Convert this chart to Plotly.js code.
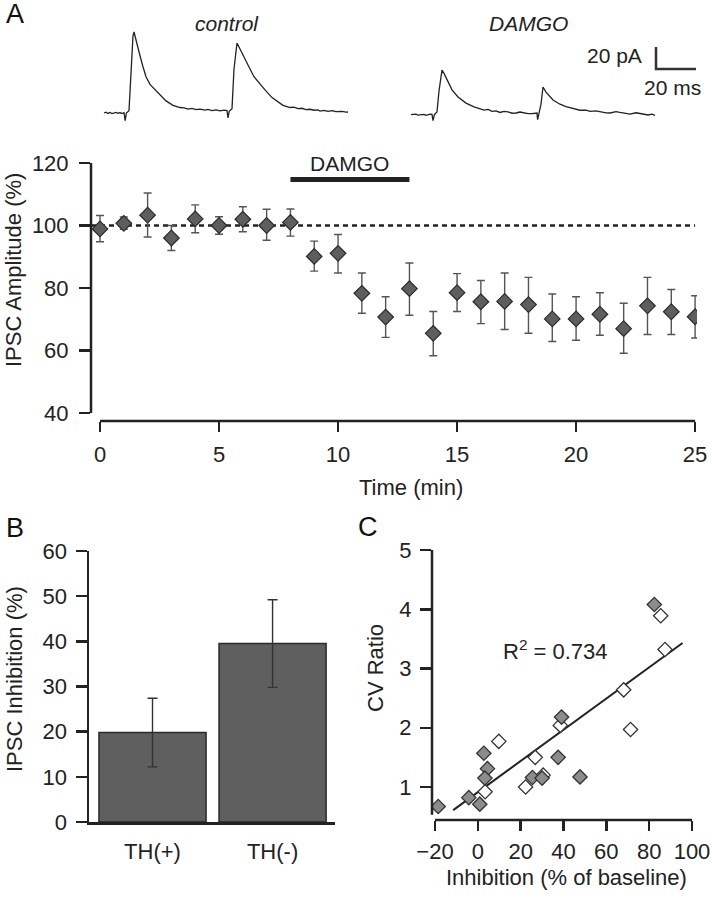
<!DOCTYPE html>
<html>
<head>
<meta charset="utf-8">
<script src="https://cdn.plot.ly/plotly-3.0.1.min.js"></script>
<style>
html,body{margin:0;padding:0;background:#fff;}
#chart{width:712px;height:900px;}
</style>
</head>
<body>
<div id="chart"></div>
<script>
// ---------- Panel A: time course ----------
var timeMin = [0,1,2,3,4,5,6,7,8,9,10,11,12,13,14,15,16,17,18,19,20,21,22,23,24,25];
var ipscAmp = [98.9,100.7,103.3,96,102.1,100,102,100,101,90.1,91.1,78.3,70.7,79.8,65.5,78.5,75.6,75.7,74.7,70.1,70.1,71.6,67,74.3,72.4,70.8];
var ampErrPlus  = [4.3,2,7.1,4,4.5,2.8,4,5.2,4.3,4.9,6,6.5,6.5,8.2,7,6.1,6.8,9.1,8.7,8,7.1,6.9,8.1,9.1,7.1,6.7];
var ampErrMinus = [4.1,1.9,7,4,4.4,2.8,4,4.7,4.4,4.7,6.3,6.4,6.5,8.5,7.2,6,7,9,9.2,7.2,6.8,6.7,7.9,9.2,7.3,6.8];
var baselineX = [-0.378, 25];
var baselineY = [100, 100];
var damgoBarX = [8, 13];
var damgoBarY = [114.7, 114.7];

// ---------- Example traces (ms, pA) ----------
var ctrlT = [2,3,4,5,6,7,8,9,10,11,12,12.6,13.2,14.5,15.5,16.5,17,18.5,20,21.5,23,25,27.5,30,33,36.5,40,42,44,46,48,50,52.5,54,56,58,60,62,63.5,64,64.6,66,67,68.5,70,72,74.5,77,80,82.5,86,89,91.5,95,97,99,101,103,105,107,109,110,112,114,116,118,120,121,123,124];
var ctrlI = [0,0.8,-0.4,0.5,-0.6,0.3,0.6,-0.3,0.4,-0.5,0.3,-7,0,2,40,70,73.6,64,52,42,33,26,21,16.4,11,7,5,4.6,3.6,4.2,3,3.5,2.7,3.2,2.2,2.8,2,2.6,2.2,-4.5,1.5,4,40,63.6,58,50,41.8,33,26,21,14,10,7,5,5.4,4,4.3,3,3.4,2.5,2.9,1.8,2.4,1.5,2.1,1.2,1.8,1.5,0.8,0.9];
var damT = [155.5,157,158,159,160,161,162,163,164,165,166,166.5,167.2,168.5,169.5,170.5,171,172,173.5,176,179,183,187,190,192,194,196,198,200,202,204,206,208,210,212,214,216,218.5,218.8,219.4,220.5,221.5,223,226.5,230,233,235.5,238,240,243,245,248,250,253,255,258,260,263,265,268,270,272,274,276,277.5];
var damI = [-1.5,-0.8,-1,-2,-1.5,-1,-1.2,-2.1,-1.4,-1,-1.3,-7,-1.5,1,20,36,39,36,30,21,14.5,9,5.5,4,2.7,3.3,1.5,2,0.5,1.4,1,-0.2,0,0.9,0.3,-0.6,-0.5,0,-6,-1,8,23.6,19,11.8,8,5.8,4.5,3.8,2.5,2.6,1.5,2,1,0.1,0,1.2,0.5,-0.8,-1,0.2,-0.5,-1.4,-1.8,-1,-2.2];
var scaleBarT = [278, 278, 298];
var scaleBarI = [60, 40, 40];

// ---------- Panel B ----------
var groups = ['TH(+)', 'TH(-)'];
var inhibition = [19.8, 39.5];
var inhibitionErr = [7.6, 9.7];

// ---------- Panel C ----------
var thPosX = [82.4,39.1,2.8,4.5,3.3,37.5,25.5,30,47.7,-4.2,0.9,-18.5];
var thPosY = [4.08,2.18,1.57,1.31,1.15,1.50,1.16,1.15,1.17,0.82,0.71,0.67];
var thNegX = [85.4,87.4,68.1,71.3,38.5,9.8,26.8,30.5,22.3,3.4];
var thNegY = [3.89,3.32,2.64,1.97,2.04,1.77,1.50,1.20,1.00,0.92];
var fitX = [-11.5, 95.6];
var fitY = [0.61, 3.43];

var W = 712, H = 900;
function px(x){ return x / W; }
function py(y){ return 1 - y / H; }

var FONT = '"Liberation Sans", Arial, Helvetica, sans-serif';
var INK = '#222';

var traces = [
  // panel A
  {x: baselineX, y: baselineY, xaxis:'x', yaxis:'y', mode:'lines', line:{color:INK, width:2.5, dash:'5px,4px'}, hoverinfo:'skip'},
  {x: damgoBarX, y: damgoBarY, xaxis:'x', yaxis:'y', mode:'lines', line:{color:INK, width:5}, hoverinfo:'skip'},
  {x: timeMin, y: ipscAmp, xaxis:'x', yaxis:'y', mode:'markers', type:'scatter',
   marker:{symbol:'diamond', size:12, color:'#5e5e5e', line:{color:'#2a2a2a', width:1.2}},
   error_y:{type:'data', symmetric:false, array:ampErrPlus, arrayminus:ampErrMinus, color:'#555', thickness:1.4, width:4}},
  // example traces
  {x: ctrlT, y: ctrlI, xaxis:'x4', yaxis:'y4', mode:'lines', line:{color:INK, width:1.3}, hoverinfo:'skip'},
  {x: damT, y: damI, xaxis:'x4', yaxis:'y4', mode:'lines', line:{color:INK, width:1.3}, hoverinfo:'skip'},
  {x: scaleBarT, y: scaleBarI, xaxis:'x4', yaxis:'y4', mode:'lines', line:{color:'#333', width:2.5}, hoverinfo:'skip'},
  // panel B
  {x: groups, y: inhibition, xaxis:'x2', yaxis:'y2', type:'bar',
   marker:{color:'#5f5f5f', line:{color:'#2a2a2a', width:1.5}},
   error_y:{type:'data', array:inhibitionErr, color:'#333', thickness:1.4, width:5}},
  // panel C
  {x: fitX, y: fitY, xaxis:'x3', yaxis:'y3', mode:'lines', line:{color:INK, width:2}, hoverinfo:'skip'},
  {x: thNegX, y: thNegY, xaxis:'x3', yaxis:'y3', mode:'markers',
   marker:{symbol:'diamond', size:11, color:'#ffffff', line:{color:'#333', width:1.3}}},
  {x: thPosX, y: thPosY, xaxis:'x3', yaxis:'y3', mode:'markers',
   marker:{symbol:'diamond', size:11, color:'#8c8c8c', line:{color:'#333', width:1.3}}}
];

var tickFont = {family: FONT, size: 22, color: INK};
var titleFont = {family: FONT, size: 22, color: INK};

var layout = {
  width: W, height: H,
  margin: {l:0, r:0, t:0, b:0},
  paper_bgcolor: '#fff', plot_bgcolor: 'rgba(0,0,0,0)',
  showlegend: false,
  bargap: 0.108,
  xaxis: {domain:[px(91), px(697)], range:[-0.378, 25.08], anchor:'y',
          tickvals:[0,5,10,15,20,25], ticks:'outside', ticklen:10, tickwidth:2.5, tickcolor:INK,
          showline:false, showgrid:false, zeroline:false, tickfont:tickFont, ticklabelstandoff:4},
  yaxis: {domain:[py(421), py(150)], range:[40 - 8/3.125, 120 + 13/3.125], anchor:'x',
          tickvals:[40,60,80,100,120], ticks:'outside', ticklen:11, tickwidth:2.5, tickcolor:INK,
          showline:false, showgrid:false, zeroline:false, tickfont:tickFont, ticklabelstandoff:6},
  xaxis2: {domain:[px(89), px(335)], range:[-0.529, 1.52], anchor:'y2', type:'category',
           ticks:'', showline:true, linecolor:INK, linewidth:2.5, showgrid:false, zeroline:false,
           tickfont:tickFont, ticklabelstandoff:8},
  yaxis2: {domain:[py(822), py(551)], range:[0, 60], anchor:'x2',
           tickvals:[0,10,20,30,40,50,60], ticks:'outside', ticklen:11, tickwidth:2.5, tickcolor:INK,
           showline:true, linecolor:INK, linewidth:2.5, showgrid:false, zeroline:false, tickfont:tickFont, ticklabelstandoff:4},
  xaxis3: {domain:[px(432), px(692)], range:[-21.4, 100], anchor:'y3',
           tickvals:[-20,0,20,40,60,80,100], ticks:'outside', ticklen:10, tickwidth:2.5, tickcolor:INK,
           showline:false, showgrid:false, zeroline:false, tickfont:tickFont, ticklabelstandoff:2},
  yaxis3: {domain:[py(820), py(550)], range:[1 - 33/59.25, 5], anchor:'x3',
           tickvals:[1,2,3,4,5], ticks:'outside', ticklen:11, tickwidth:2.5, tickcolor:INK,
           showline:false, showgrid:false, zeroline:false, tickfont:tickFont, ticklabelstandoff:4},
  xaxis4: {domain:[px(100), px(705)], range:[0, 302.5], anchor:'y4', visible:false, fixedrange:true},
  yaxis4: {domain:[py(125), py(20)], range:[-10.9, 84.5], anchor:'x4', visible:false, fixedrange:true},
  shapes: [
    // panel A axis lines
    {type:'line', xref:'paper', yref:'y', x0:px(91), x1:px(91), y0:40, y1:120, line:{color:INK, width:2.5}},
    {type:'line', xref:'x', yref:'paper', x0:0, x1:25, y0:py(421), y1:py(421), line:{color:INK, width:2.5}},
    // panel C axis lines
    {type:'line', xref:'paper', yref:'y3', x0:px(432), x1:px(432), y0:0.53, y1:5, line:{color:INK, width:2.5}},
    {type:'line', xref:'x3', yref:'paper', x0:-20, x1:100, y0:py(820), y1:py(820), line:{color:INK, width:2.5}}
  ],
  annotations: [
    {text:'A', xref:'paper', yref:'paper', x:px(4), y:py(14), xanchor:'left', yanchor:'middle', showarrow:false, font:{family:FONT, size:27, color:'#111'}},
    {text:'B', xref:'paper', yref:'paper', x:px(4), y:py(528), xanchor:'left', yanchor:'middle', showarrow:false, font:{family:FONT, size:27, color:'#111'}},
    {text:'C', xref:'paper', yref:'paper', x:px(356), y:py(527), xanchor:'left', yanchor:'middle', showarrow:false, font:{family:FONT, size:27, color:'#111'}},
    {text:'<i>control</i>', xref:'paper', yref:'paper', x:px(227), y:py(24), xanchor:'center', yanchor:'middle', showarrow:false, font:{family:FONT, size:21, color:INK}},
    {text:'<i>DAMGO</i>', xref:'paper', yref:'paper', x:px(528), y:py(24), xanchor:'center', yanchor:'middle', showarrow:false, font:{family:FONT, size:21, color:INK}},
    {text:'20 pA', xref:'paper', yref:'paper', x:px(644), y:py(55), xanchor:'right', yanchor:'middle', showarrow:false, font:{family:FONT, size:21, color:INK}},
    {text:'20 ms', xref:'paper', yref:'paper', x:px(703), y:py(87), xanchor:'right', yanchor:'middle', showarrow:false, font:{family:FONT, size:21, color:INK}},
    {text:'DAMGO', xref:'x', yref:'y', x:10.5, y:119.7, xanchor:'center', yanchor:'middle', showarrow:false, font:{family:FONT, size:21, color:INK}},
    {text:'IPSC Amplitude (%)', xref:'paper', yref:'paper', x:px(13), y:py(270), textangle:-90, xanchor:'center', yanchor:'middle', showarrow:false, font:titleFont},
    {text:'Time (min)', xref:'paper', yref:'paper', x:px(411), y:py(487), xanchor:'center', yanchor:'middle', showarrow:false, font:titleFont},
    {text:'IPSC Inhibition (%)', xref:'paper', yref:'paper', x:px(14), y:py(679), textangle:-90, xanchor:'center', yanchor:'middle', showarrow:false, font:titleFont},
    {text:'CV Ratio', xref:'paper', yref:'paper', x:px(375), y:py(668), textangle:-90, xanchor:'center', yanchor:'middle', showarrow:false, font:titleFont},
    {text:'Inhibition (% of baseline)', xref:'paper', yref:'paper', x:px(566), y:py(877), xanchor:'center', yanchor:'middle', showarrow:false, font:titleFont},
    {text:'R<sup>2</sup> = 0.734', xref:'x3', yref:'y3', x:36.4, y:3.31, xanchor:'center', yanchor:'middle', showarrow:false, font:{family:FONT, size:22, color:INK}}
  ]
};

Plotly.newPlot('chart', traces, layout, {staticPlot:true, displayModeBar:false});
</script>
</body>
</html>
